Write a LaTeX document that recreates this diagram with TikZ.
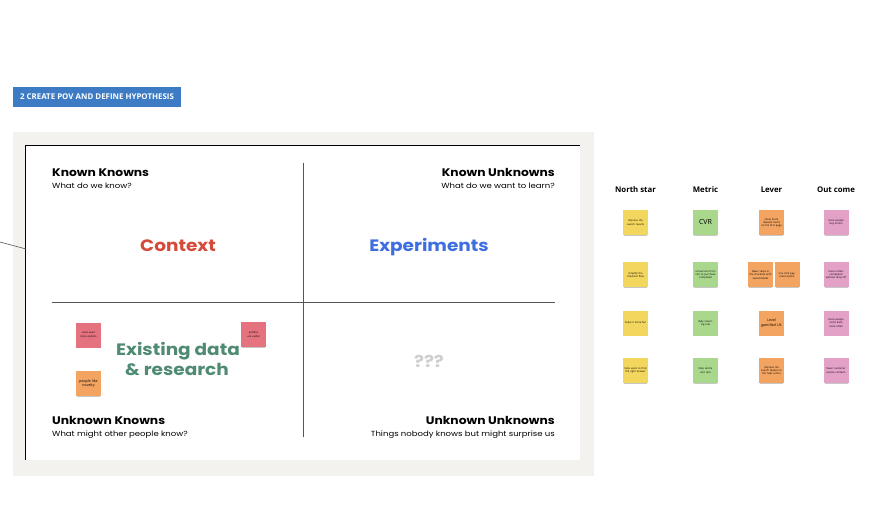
\documentclass[tikz,border=0pt]{standalone}
\usepackage{fontspec}
\setmainfont{Open Sans}
\newfontfamily\pop{Poppins}[FakeStretch=1.12]
\newfontfamily\popsub{Poppins}[FakeStretch=1.15]
\usetikzlibrary{shadows}
\definecolor{panelgray}{HTML}{F3F2EE}
\definecolor{hdrblue}{HTML}{3D7CC4}
\definecolor{ctxred}{HTML}{D64A3A}
\definecolor{expblue}{HTML}{3D6FE0}
\definecolor{exgreen}{HTML}{4F8A72}
\definecolor{qgray}{HTML}{CFCFCF}
\definecolor{syellow}{HTML}{F3D65E}
\definecolor{sgreen}{HTML}{A9D78C}
\definecolor{sorange}{HTML}{F3A461}
\definecolor{spink}{HTML}{E3A1C7}
\definecolor{sred}{HTML}{E5737F}
\definecolor{divgray}{HTML}{555555}
\begin{document}
\begin{tikzpicture}[x=1pt,y=-1pt,
  sticky/.style={minimum width=25pt, minimum height=25pt, inner sep=0.5pt, align=center,
    text width=22pt, font=\fontsize{2.6}{3.1}\selectfont,
    drop shadow={shadow xshift=0pt, shadow yshift=-2pt, opacity=0.22, fill=black, shadow scale=0.92}},
  qtitle/.style={font=\pop\bfseries\fontsize{11}{13}\selectfont, inner sep=0pt},
  qsub/.style={font=\popsub\fontsize{7.4}{8.5}\selectfont, inner sep=0pt},
  bigword/.style={font=\pop\bfseries\fontsize{16.5}{20}\selectfont, inner sep=0pt, align=center},
  colhead/.style={font=\bfseries\fontsize{7.8}{9}\selectfont, inner sep=0pt}]
\useasboundingbox (0,0) rectangle (869,510);

% header label
\node[fill=hdrblue, minimum width=168pt, minimum height=20pt, inner sep=0pt,
  font=\bfseries\fontsize{7.9}{9}\selectfont, text=white] (hdr) at (97,97) {2 CREATE POV AND DEFINE HYPOTHESIS};

% panel and board
\node[fill=panelgray, minimum width=581pt, minimum height=344pt, inner sep=0pt] (panel) at (303.5,304) {};
\node[fill=white, minimum width=554pt, minimum height=314pt, inner sep=0pt] (board) at (303,303) {};
\draw[line width=1pt, black] (board.south west) -- (board.north west) -- (board.north east);

% connector from left edge
\coordinate (lstart) at (0,242);
\coordinate (lend) at (26,249);
\draw[divgray, line width=0.6pt] (lstart) -- (lend);

% dividers
\coordinate (vtop) at (303,163);
\coordinate (vbot) at (303,437);
\coordinate (hl) at (52,302);
\coordinate (hr) at (555,302);
\draw[divgray, line width=0.7pt] (vtop) -- (vbot);
\draw[divgray, line width=0.7pt] (hl) -- (hr);

% quadrant titles
\node[qtitle, anchor=base west] (kk) at (52,177) {Known Knowns};
\node[qsub, anchor=base west] (kks) at (52,189) {What do we know?};
\node[qtitle, anchor=base east] (ku) at (555,177) {Known Unknowns};
\node[qsub, anchor=base east] (kus) at (555,189) {What do we want to learn?};
\node[qtitle, anchor=base west] (uk) at (52,424) {Unknown Knowns};
\node[qsub, anchor=base west] (uks) at (52,436) {What might other people know?};
\node[qtitle, anchor=base east] (uu) at (555,424) {Unknown Unknowns};
\node[qsub, anchor=base east] (uus) at (555,436) {Things nobody knows but might surprise us};

% big words
\node[bigword, text=ctxred, anchor=base] (ctx) at (178,252) {Context};
\node[bigword, text=expblue, anchor=base] (exp) at (429,252) {Experiments};
\node[bigword, text=exgreen, anchor=base] (ex1) at (178,355) {Existing data};
\node[bigword, text=exgreen, anchor=base] (ex2) at (177,375) {\&~research};
\node[bigword, text=qgray, anchor=base] (qqq) at (429,367) {???};

% stickies in quadrant
\node[sticky, fill=sred] (q1) at (88.5,335) {users want more options};
\node[sticky, fill=sorange, font=\fontsize{3.6}{4.2}\selectfont] (q2) at (88.5,383.5) {people like novelty};
\node[sticky, fill=sred] (q3) at (253.5,334.5) {profiles are useful};

% right grid headers
\node[colhead] (hns) at (635.5,190) {North star};
\node[colhead] (hme) at (705.5,190) {Metric};
\node[colhead] (hle) at (771.5,190) {Lever};
\node[colhead] (hou) at (836,190) {Out come};

% row 1
\node[sticky, fill=syellow] (a1) at (635.5,222.5) {Improve the search results};
\node[sticky, fill=sgreen, font=\fontsize{7}{8}\selectfont] (b1) at (705.5,222.5) {CVR};
\node[sticky, fill=sorange] (c1) at (771.5,222.5) {show more relevant items on the first page};
\node[sticky, fill=spink] (d1) at (836,222.5) {more people buy online};
% row 2
\node[sticky, fill=syellow] (a2) at (635.5,275) {simplify the checkout flow};
\node[sticky, fill=sgreen] (b2) at (705.5,275) {conversion from cart to purchase completed};
\node[sticky, fill=sorange] (c2a) at (760.5,275) {fewer steps in the checkout with saved details};
\node[sticky, fill=sorange] (c2b) at (787,275) {one click payment option};
\node[sticky, fill=spink] (d2) at (836,275) {more orders completed without drop off};
% row 3
\node[sticky, fill=syellow] (a3) at (635.5,323) {make it more fun};
\node[sticky, fill=sgreen] (b3) at (705.5,323) {daily returning rate};
\node[sticky, fill=sorange, font=\fontsize{3.6}{4.2}\selectfont] (c3) at (771.5,323) {Level gamified UX};
\node[sticky, fill=spink] (d3) at (836,323) {more people come back more often};
% row 4
\node[sticky, fill=syellow] (a4) at (635.5,370.5) {help users to find the right answer};
\node[sticky, fill=sgreen] (b4) at (705.5,370.5) {help centre visit rate};
\node[sticky, fill=sorange] (c4) at (771.5,370.5) {improve the search feature in the help centre};
\node[sticky, fill=spink] (d4) at (836,370.5) {fewer customer service contacts};
\end{tikzpicture}
\end{document}
